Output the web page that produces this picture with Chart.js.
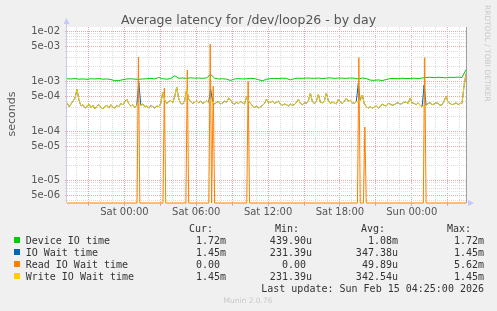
<!DOCTYPE html>
<html>
<head>
<meta charset="utf-8">
<script src="https://cdn.jsdelivr.net/npm/chart.js@4.4.1/dist/chart.umd.min.js"></script>
<style>
  html, body { margin: 0; padding: 0; background: #f0f0f0; }
  #wrap { width: 497px; height: 311px; }
</style>
</head>
<body>
<div id="wrap"><canvas id="latencyChart" width="497" height="311"></canvas></div>
<script>
// time in minutes relative to Sat 00:00
var sampleStart = -288;
var deviceStep = 20;
var waitStep = 10;

// Device IO time, ms (every 20 min)
var deviceMs = [
  1.13, 1.12, 1.14, 1.11, 1.12, 1.10, 1.13, 1.12, 1.14, 1.11,
  1.12, 1.09, 1.03, 1.04, 1.08, 1.12, 1.13, 1.11, 1.10, 1.12,
  1.13, 1.15, 1.12, 1.20, 1.13, 1.11, 1.14, 1.30, 1.16, 1.17,
  1.15, 1.18, 1.16, 1.17, 1.15, 1.18, 1.38, 1.16, 1.12, 1.13,
  1.11, 1.04, 1.12, 1.14, 1.12, 1.13, 1.15, 1.14, 1.08, 1.03,
  1.10, 1.14, 1.15, 1.14, 1.16, 1.15, 1.07, 1.14, 1.16, 1.15,
  1.17, 1.16, 1.15, 1.17, 1.14, 1.16, 1.18, 1.15, 1.17, 1.16,
  1.15, 1.17, 1.16, 1.12, 1.17, 1.14, 1.06, 1.05, 1.07, 1.04,
  1.09, 1.14, 1.15, 1.13, 1.16, 1.14, 1.15, 1.16, 1.14, 1.17,
  1.20, 1.21, 1.19, 1.21, 1.20, 1.18, 1.21, 1.20, 1.22, 1.20,
  1.72
];

// IO Wait time, ms (every 10 min)
var ioWaitMs = [
  0.37, 0.31, 0.35, 0.40, 0.46, 0.70, 0.42, 0.32, 0.34, 0.29,
  0.31, 0.35, 0.30, 0.33, 0.28, 0.32, 0.34, 0.30, 0.28, 0.31,
  0.33, 0.29, 0.34, 0.30, 0.29, 0.33, 0.31, 0.36, 0.34, 0.39,
  0.44, 0.35, 0.32, 0.34, 0.30, 0.33, 0.95, 0.33, 0.35, 0.31,
  0.32, 0.29, 0.33, 0.31, 0.29, 0.32, 0.31, 0.36, 0.60, 0.42,
  0.36, 0.39, 0.41, 0.37, 0.50, 0.76, 0.45, 0.36, 0.35, 0.41,
  0.70, 0.44, 0.39, 0.36, 0.38, 0.41, 0.37, 0.40, 0.36, 0.38,
  0.41, 0.37, 0.70, 0.39, 0.35, 0.38, 0.39, 0.35, 0.37, 0.40,
  0.38, 0.46, 0.42, 0.36, 0.35, 0.38, 0.36, 0.39, 0.37, 0.35,
  0.49, 0.40, 0.36, 0.32, 0.30, 0.32, 0.29, 0.31, 0.33, 0.36,
  0.44, 0.37, 0.38, 0.40, 0.36, 0.38, 0.40, 0.35, 0.33, 0.35,
  0.34, 0.32, 0.35, 0.33, 0.34, 0.38, 0.44, 0.36, 0.34, 0.37,
  0.36, 0.41, 0.58, 0.39, 0.36, 0.40, 0.55, 0.38, 0.37, 0.40,
  0.58, 0.41, 0.36, 0.38, 0.37, 0.35, 0.44, 0.38, 0.36, 0.39,
  0.46, 0.40, 0.42, 0.37, 0.36, 0.39, 0.90, 0.41, 0.53, 0.36,
  0.31, 0.29, 0.31, 0.29, 0.30, 0.32, 0.29, 0.31, 0.35, 0.33,
  0.32, 0.36, 0.35, 0.33, 0.34, 0.36, 0.37, 0.35, 0.36, 0.38,
  0.38, 0.36, 0.46, 0.37, 0.36, 0.34, 0.37, 0.33, 0.31, 0.85,
  0.33, 0.36, 0.37, 0.34, 0.35, 0.37, 0.36, 0.33, 0.34, 0.40,
  0.50, 0.38, 0.36, 0.34, 0.35, 0.37, 0.34, 0.36, 0.36, 0.80,
  1.45
];

// Write IO Wait time, ms (every 10 min)
var writeWaitMs = [
  0.37, 0.31, 0.35, 0.40, 0.46, 0.70, 0.42, 0.32, 0.34, 0.29,
  0.31, 0.35, 0.30, 0.33, 0.28, 0.32, 0.34, 0.30, 0.28, 0.31,
  0.33, 0.29, 0.34, 0.30, 0.29, 0.33, 0.31, 0.36, 0.34, 0.39,
  0.44, 0.35, 0.32, 0.34, 0.30, 0.33, 0.36, 0.33, 0.35, 0.31,
  0.32, 0.29, 0.33, 0.31, 0.29, 0.32, 0.31, 0.36, 0.60, 0.42,
  0.36, 0.39, 0.41, 0.37, 0.50, 0.76, 0.45, 0.36, 0.35, 0.41,
  0.70, 0.44, 0.39, 0.36, 0.38, 0.41, 0.37, 0.40, 0.36, 0.38,
  0.41, 0.37, 0.44, 0.39, 0.35, 0.38, 0.39, 0.35, 0.37, 0.40,
  0.38, 0.46, 0.42, 0.36, 0.35, 0.38, 0.36, 0.39, 0.37, 0.35,
  0.49, 0.40, 0.36, 0.32, 0.30, 0.32, 0.29, 0.31, 0.33, 0.36,
  0.44, 0.37, 0.38, 0.40, 0.36, 0.38, 0.40, 0.35, 0.33, 0.35,
  0.34, 0.32, 0.35, 0.33, 0.34, 0.38, 0.44, 0.36, 0.34, 0.37,
  0.36, 0.41, 0.58, 0.39, 0.36, 0.40, 0.55, 0.38, 0.37, 0.40,
  0.58, 0.41, 0.36, 0.38, 0.37, 0.35, 0.44, 0.38, 0.36, 0.39,
  0.46, 0.40, 0.42, 0.37, 0.36, 0.39, 0.38, 0.41, 0.53, 0.36,
  0.31, 0.29, 0.31, 0.29, 0.30, 0.32, 0.29, 0.31, 0.35, 0.33,
  0.32, 0.36, 0.35, 0.33, 0.34, 0.36, 0.37, 0.35, 0.36, 0.38,
  0.38, 0.36, 0.46, 0.37, 0.36, 0.34, 0.37, 0.33, 0.31, 0.30,
  0.33, 0.36, 0.37, 0.34, 0.35, 0.37, 0.36, 0.33, 0.34, 0.40,
  0.50, 0.38, 0.36, 0.34, 0.35, 0.37, 0.34, 0.36, 0.36, 0.80,
  1.45
];

// Read IO Wait time is 0 except a few spikes (seconds)
var readSpikeTimes = [70, 200, 315, 430, 445, 620, 1175, 1205, 1505];
var readSpikeValues = [3.1e-3, 7.3e-4, 1.7e-3, 5.62e-3, 8.0e-4, 1.0e-3, 3.0e-3, 1.2e-4, 3.0e-3];

var xTickValues = [0, 360, 720, 1080, 1440];
var xTickLabels = ['Sat 00:00', 'Sat 06:00', 'Sat 12:00', 'Sat 18:00', 'Sun 00:00'];
var yTickValues = [1e-2, 5e-3, 1e-3, 5e-4, 1e-4, 5e-5, 1e-5, 5e-6];
var yTickLabels = ['1e-02', '5e-03', '1e-03', '5e-04', '1e-04', '5e-05', '1e-05', '5e-06'];

var seriesNames = ['Device IO time', 'IO Wait time', 'Read IO Wait time', 'Write IO Wait time'];
var seriesColors = ['#00cc00', '#0066b3', '#ff8000', '#ffcc00'];
var legendCur = ['1.72m', '1.45m', '0.00 ', '1.45m'];
var legendMin = ['439.90u', '231.39u', '0.00 ', '231.39u'];
var legendAvg = ['1.08m', '347.38u', '49.89u', '342.54u'];
var legendMax = ['1.72m', '1.45m', '5.62m', '1.45m'];

var xMin = -288, xMax = 1712;
var yMin = 3.56e-6, yMax = 1.245e-2;

var MAJOR = '#e8a8a8';
var MINOR = '#dcdcdc';

function msPoints(arr, step) {
  return arr.map(function (v, i) {
    return { x: sampleStart + i * step, y: v / 1000 };
  });
}

// zero can't sit on a log axis: munin draws it on the floor
function readPoints() {
  var pts = [{ x: xMin, y: yMin }];
  for (var i = 0; i < readSpikeTimes.length; i++) {
    var t = readSpikeTimes[i];
    pts.push({ x: t - 7, y: yMin }, { x: t, y: readSpikeValues[i] }, { x: t + 7, y: yMin });
  }
  pts.push({ x: xMax, y: yMin });
  return pts;
}

function mantissa(v) {
  var e = Math.floor(Math.log10(v) + 1e-9);
  return Math.round(v / Math.pow(10, e));
}

var muninDecor = {
  id: 'muninDecor',
  beforeDraw: function (chart) {
    var c = chart.ctx, a = chart.chartArea;
    c.save();
    c.fillStyle = '#f0f0f0';
    c.fillRect(0, 0, chart.width, chart.height);
    c.fillStyle = '#ffffff';
    c.fillRect(a.left, a.top, a.right - a.left, a.bottom - a.top);
    c.restore();
  },
  beforeDatasetsDraw: function (chart) {
    var c = chart.ctx, a = chart.chartArea;
    c.save();
    // axis + arrows
    c.strokeStyle = '#c8c8f0';
    c.lineWidth = 1;
    c.beginPath();
    c.moveTo(a.left - 0.5, a.top - 6);
    c.lineTo(a.left - 0.5, a.bottom);
    c.stroke();
    c.fillStyle = '#c8c8f8';
    c.beginPath();
    c.moveTo(a.left - 0.5, a.top - 9);
    c.lineTo(a.left - 3.5, a.top - 3);
    c.lineTo(a.left + 2.5, a.top - 3);
    c.closePath();
    c.fill();
    c.beginPath();
    c.moveTo(a.right + 8, a.bottom);
    c.lineTo(a.right + 2, a.bottom - 3);
    c.lineTo(a.right + 2, a.bottom + 3);
    c.closePath();
    c.fill();
    c.strokeStyle = '#a0a0a0';
    c.beginPath();
    c.moveTo(a.right + 0.5, a.top);
    c.lineTo(a.right + 0.5, a.bottom);
    c.stroke();
    c.restore();
  },
  afterDraw: function (chart) {
    var c = chart.ctx;
    c.save();
    c.fillStyle = '#555';
    c.font = '12.5px "DejaVu Sans"';
    c.textAlign = 'center';
    c.textBaseline = 'alphabetic';
    c.fillText('Average latency for /dev/loop26 - by day', 248.5, 24);

    // y title
    c.save();
    c.translate(14.5, 114);
    c.rotate(-Math.PI / 2);
    c.font = '11px "DejaVu Sans"';
    c.fillText('seconds', 0, 0);
    c.restore();

    // rrdtool watermark
    c.save();
    c.translate(484.5, 5);
    c.rotate(Math.PI / 2);
    c.fillStyle = '#c8c8c8';
    c.font = '7.5px "DejaVu Sans"';
    c.textAlign = 'left';
    c.fillText('RRDTOOL / TOBI OETIKER', 0, 0);
    c.restore();

    // legend table
    c.font = '10px "DejaVu Sans Mono"';
    c.fillStyle = '#333';
    c.textAlign = 'right';
    var heads = ['Cur:', 'Min:', 'Avg:', 'Max:'];
    var colEnd = [226, 312, 398, 484];
    for (var h = 0; h < 4; h++) c.fillText(heads[h], colEnd[h] - 13, 232);
    for (var r = 0; r < seriesNames.length; r++) {
      var y = 244 + r * 12;
      c.fillStyle = seriesColors[r];
      c.fillRect(14, 237 + r * 12, 6, 6);
      c.fillStyle = '#333';
      c.textAlign = 'left';
      c.fillText(seriesNames[r], 25.7, y);
      c.textAlign = 'right';
      c.fillText(legendCur[r], colEnd[0], y);
      c.fillText(legendMin[r], colEnd[1], y);
      c.fillText(legendAvg[r], colEnd[2], y);
      c.fillText(legendMax[r], colEnd[3], y);
    }
    c.fillText('Last update: Sun Feb 15 04:25:00 2026', 484, 292);

    c.textAlign = 'center';
    c.fillStyle = '#c8c8c8';
    c.font = '7.5px "DejaVu Sans"';
    c.fillText('Munin 2.0.76', 248, 303);
    c.restore();
  }
};

Chart.defaults.font.family = 'DejaVu Sans';
Chart.defaults.font.size = 10;
Chart.defaults.color = '#555';

var ctx = document.getElementById('latencyChart').getContext('2d');
var latencyChart = new Chart(ctx, {
  type: 'line',
  data: {
    datasets: [
      { label: seriesNames[0], data: msPoints(deviceMs, deviceStep), borderColor: seriesColors[0], order: 4 },
      { label: seriesNames[1], data: msPoints(ioWaitMs, waitStep), borderColor: seriesColors[1], order: 3 },
      { label: seriesNames[2], data: readPoints(), borderColor: seriesColors[2], order: 2,
        clip: { left: 0, top: 0, right: 0, bottom: 1 } },
      { label: seriesNames[3], data: msPoints(writeWaitMs, waitStep), borderColor: seriesColors[3], order: 1 }
    ]
  },
  options: {
    responsive: false,
    animation: false,
    events: [],
    layout: { padding: { left: 0, right: 31, top: 27, bottom: 88 } },
    elements: {
      line: { borderWidth: 1, tension: 0, fill: false, borderJoinStyle: 'bevel' },
      point: { radius: 0 }
    },
    plugins: { legend: { display: false }, tooltip: { enabled: false }, title: { display: false } },
    scales: {
      x: {
        type: 'linear',
        min: xMin,
        max: xMax,
        afterFit: function (s) { s.height = 20; },
        afterBuildTicks: function (s) {
          var t = [];
          for (var v = -240; v <= 1680; v += 60) t.push({ value: v });
          s.ticks = t;
        },
        ticks: {
          autoSkip: false,
          maxRotation: 0,
          padding: 0,
          color: '#555',
          callback: function (value) {
            var k = xTickValues.indexOf(value);
            return k >= 0 ? xTickLabels[k] : '';
          }
        },
        grid: {
          color: function (c) { return c.tick && c.tick.value % 180 === 0 ? MAJOR : MINOR; },
          tickColor: function (c) { return c.tick && c.tick.value % 180 === 0 ? MAJOR : 'rgba(0,0,0,0)'; },
          tickLength: 3,
          lineWidth: 1
        },
        border: { display: false, dash: [1, 1] }
      },
      y: {
        type: 'logarithmic',
        min: yMin,
        max: yMax,
        afterFit: function (s) { s.width = 67; },
        afterBuildTicks: function (s) {
          var t = [];
          for (var e = -6; e <= -2; e++) {
            for (var m = 1; m <= 9; m++) {
              var v = m * Math.pow(10, e);
              if (v >= yMin && v <= yMax) t.push({ value: v });
            }
          }
          s.ticks = t;
        },
        ticks: {
          autoSkip: false,
          padding: 5,
          color: '#555',
          callback: function (value) {
            for (var k = 0; k < yTickValues.length; k++) {
              if (Math.abs(value / yTickValues[k] - 1) < 1e-6) return yTickLabels[k];
            }
            return '';
          }
        },
        grid: {
          color: function (c) {
            if (!c.tick) return MINOR;
            var m = mantissa(c.tick.value);
            return (m === 1 || m === 5) ? MAJOR : MINOR;
          },
          tickColor: function (c) {
            if (!c.tick) return MINOR;
            var m = mantissa(c.tick.value);
            return (m === 1 || m === 5) ? MAJOR : MINOR;
          },
          tickLength: 2,
          lineWidth: 1
        },
        border: { display: false, dash: [1, 1] }
      }
    }
  },
  plugins: [muninDecor]
});
</script>
</body>
</html>
